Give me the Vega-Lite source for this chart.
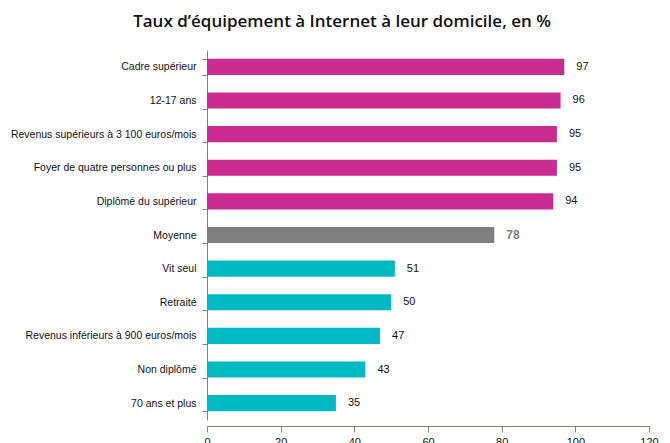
{
  "$schema": "https://vega.github.io/schema/vega-lite/v6.json",
  "autosize": "none",
  "width": 442,
  "height": 370,
  "padding": {"left": 207, "top": 50, "right": 21, "bottom": 23},
  "background": "white",
  "title": {
    "text": "Taux d’équipement à Internet à leur domicile, en %",
    "font": "Open Sans",
    "fontSize": 17,
    "fontWeight": 600,
    "color": "#111111",
    "anchor": "middle",
    "frame": "group",
    "dx": -86,
    "offset": 14
  },
  "config": {
    "view": {"stroke": null},
    "font": "Liberation Sans, sans-serif"
  },
  "data": {
    "values": [
      {"cat": "Cadre supérieur", "val": 97, "grp": "haut"},
      {"cat": "12-17 ans", "val": 96, "grp": "haut"},
      {"cat": "Revenus supérieurs à 3 100 euros/mois", "val": 95, "grp": "haut"},
      {"cat": "Foyer de quatre personnes ou plus", "val": 95, "grp": "haut"},
      {"cat": "Diplômé du supérieur", "val": 94, "grp": "haut"},
      {"cat": "Moyenne", "val": 78, "grp": "moy"},
      {"cat": "Vit seul", "val": 51, "grp": "bas"},
      {"cat": "Retraité", "val": 50, "grp": "bas"},
      {"cat": "Revenus inférieurs à 900 euros/mois", "val": 47, "grp": "bas"},
      {"cat": "Non diplômé", "val": 43, "grp": "bas"},
      {"cat": "70 ans et plus", "val": 35, "grp": "bas"}
    ]
  },
  "encoding": {
    "y": {
      "field": "cat",
      "type": "nominal",
      "sort": null,
      "scale": {"paddingInner": 0.52, "paddingOuter": 0.26},
      "axis": {
        "title": null,
        "domainColor": "#8a7f72",
        "tickColor": "#8a7f72",
        "tickBand": "extent",
        "tickSize": 5,
        "labelFont": "Liberation Sans",
        "labelFontSize": 10.5,
        "labelColor": "#111111",
        "labelPadding": 6,
        "labelLimit": 250
      }
    },
    "x": {
      "field": "val",
      "type": "quantitative",
      "scale": {"domain": [0, 120], "nice": false},
      "axis": {
        "title": null,
        "values": [0, 20, 40, 60, 80, 100, 120],
        "grid": false,
        "offset": 6,
        "domainColor": "#8a7f72",
        "tickColor": "#8a7f72",
        "tickSize": 6,
        "labelFont": "Liberation Sans",
        "labelFontSize": 11,
        "labelColor": "#111111",
        "labelPadding": 4,
        "labelFlush": false
      }
    }
  },
  "layer": [
    {
      "mark": {"type": "bar"},
      "encoding": {
        "color": {
          "field": "grp",
          "type": "nominal",
          "scale": {"domain": ["haut", "moy", "bas"], "range": ["#CB2A91", "#808080", "#00B9C3"]},
          "legend": null
        }
      }
    },
    {
      "transform": [{"filter": "datum.grp !== 'moy'"}],
      "mark": {"type": "text", "align": "left", "dx": 12, "fontSize": 11, "font": "Liberation Sans", "color": "#111111"},
      "encoding": {
        "text": {"field": "val", "type": "quantitative"}
      }
    },
    {
      "transform": [{"filter": "datum.grp === 'moy'"}],
      "mark": {"type": "text", "align": "left", "dx": 12, "fontSize": 12, "font": "Liberation Sans", "fontWeight": "bold", "color": "#808080"},
      "encoding": {
        "text": {"field": "val", "type": "quantitative"}
      }
    }
  ]
}
